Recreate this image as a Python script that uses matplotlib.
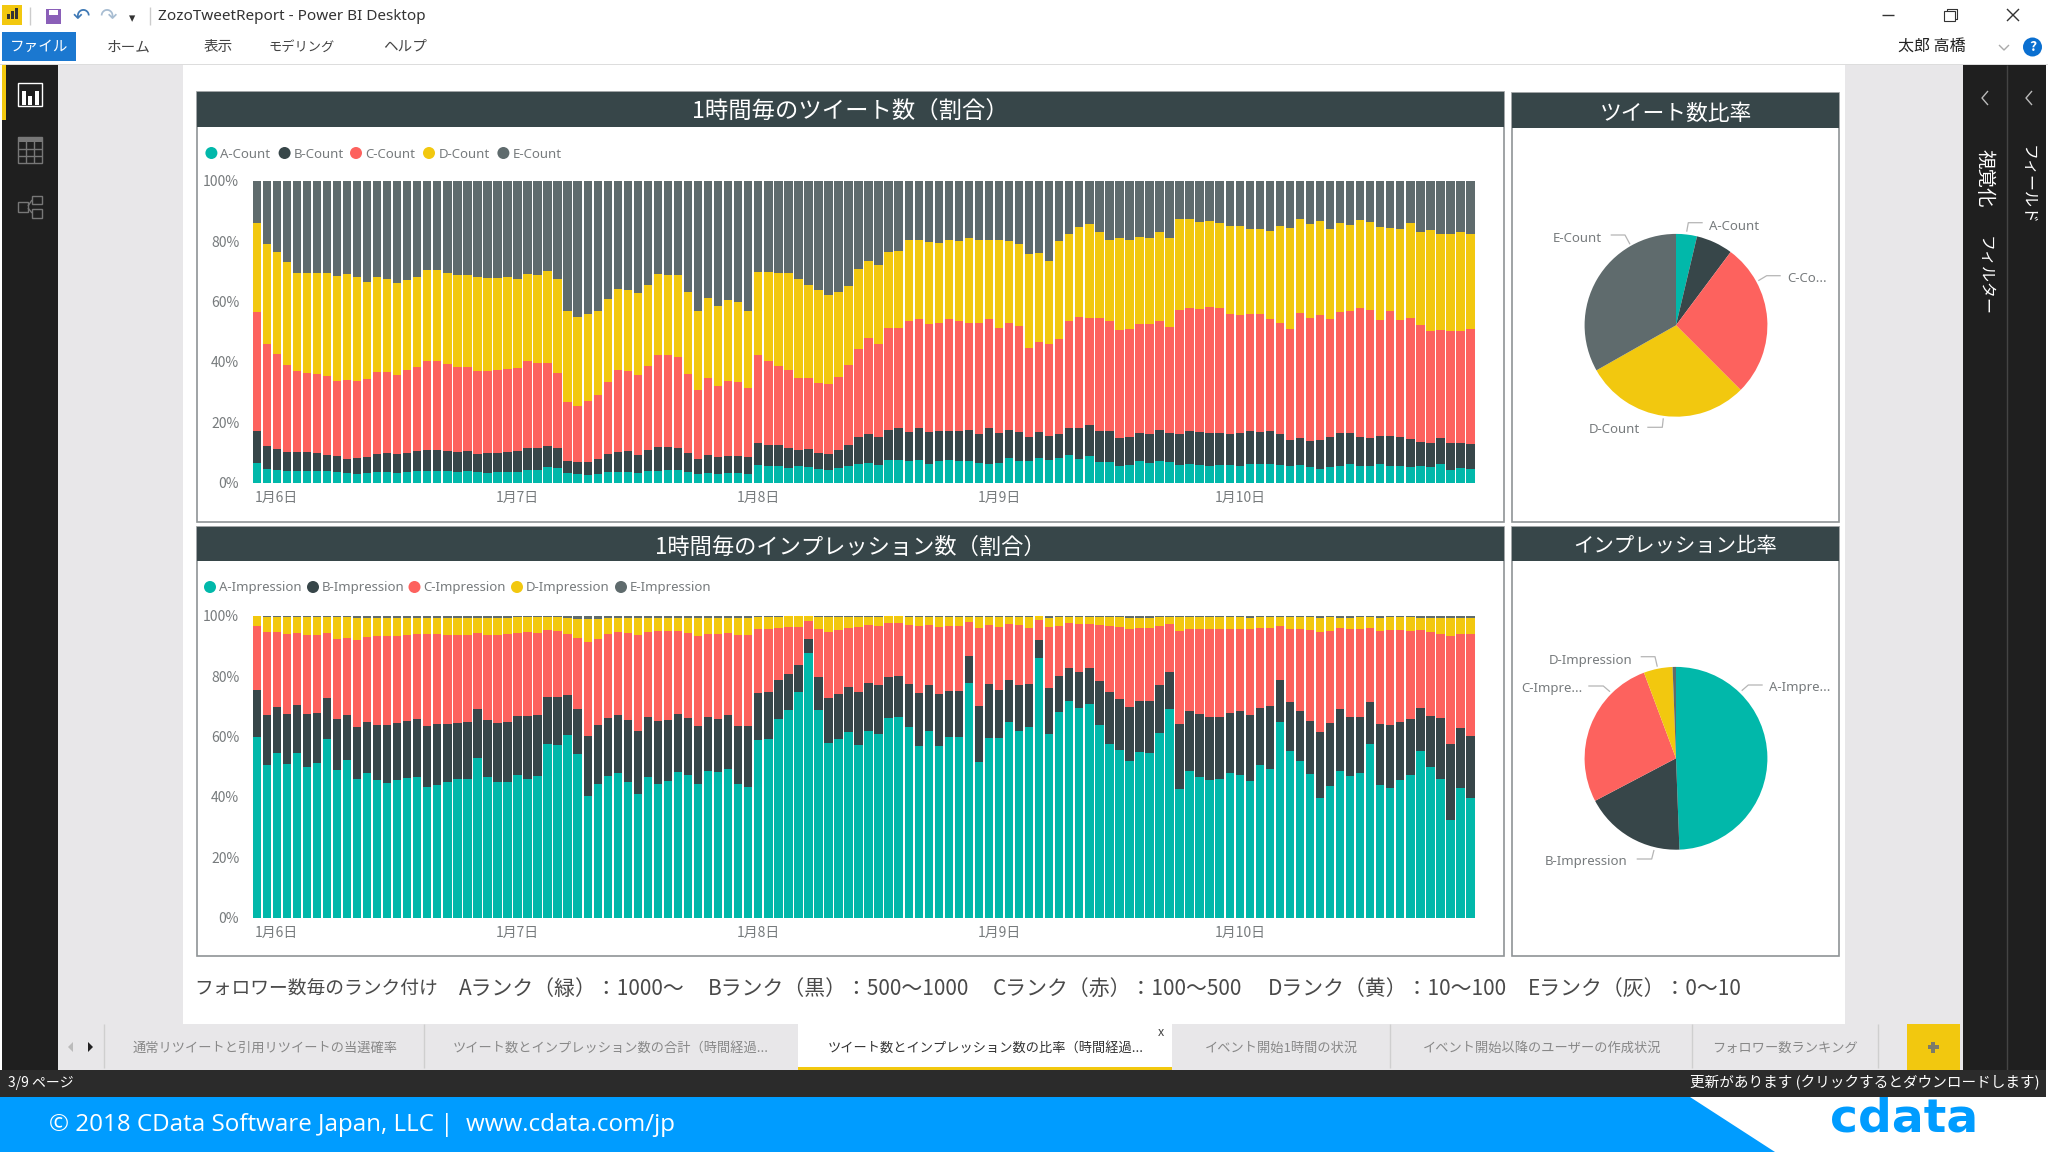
import numpy as np
import matplotlib
matplotlib.use("Agg")
import matplotlib.pyplot as plt
from matplotlib.patches import Rectangle, Circle, Polygon

plt.rcParams['font.family'] = ['Noto Sans CJK JP', 'DejaVu Sans']

# ---------- data ----------
hours = list(range(122))
tick_positions = [2, 26, 50, 74, 98]
tick_labels = ['1月6日', '1月7日', '1月8日', '1月9日', '1月10日']
y_ticks = [0, 20, 40, 60, 80, 100]

# cumulative tops of each stacked band (percent)
count_a = [6.5,4.5,4.2,4,3.8,4,4,3.8,3.5,3.3,3,3.2,3.4,3.4,3.3,3.7,3.8,3.9,3.9,3.9,
           3.7,3.8,3.6,3.3,3.5,3.5,3.7,4.3,4.2,5.2,5,3.2,2.9,2.5,3,3.4,3.7,3.6,3.1,3.8,
           4,4.1,4.1,3.6,2.9,3.3,3,3.2,3.1,2.9,5.7,5.4,5.6,4.9,5.5,5.3,4.4,4.2,4.9,5.5,
           6.3,6.6,6,7.6,7.6,7.1,7.6,6.3,7.1,7.6,7.2,7.3,6.6,6.2,6.6,8.1,7.3,7.3,8.1,7.5,
           8.1,9.1,7.9,8.8,7,6.7,5.5,5.7,7.1,6.6,7.2,6.8,5.8,6.3,6,5.6,5.7,5.7,5.4,6.2,
           6.3,6.1,5.8,5.6,5.8,5.1,4.4,5.3,5.6,6.3,5.6,5.5,6.1,5.6,5.6,5.2,5.6,5.2,6.1,4.2,5,4.7]
count_b = [17,12,11,10,10,10,9.8,9.3,8.7,8,8.1,8.4,9.5,9.7,9.5,9.9,10.4,10.8,10.8,10.6,
           10,10.4,9.6,9.7,9.9,10,10.4,11.5,11.6,12.2,11.6,7.3,6.8,6.9,7.8,9.5,10.2,10.5,9.3,10.8,
           11.8,11.9,11.5,9.8,8,9.2,8.4,8.7,8.9,8.4,13.3,12.6,12.6,11.6,10.9,11.2,9.8,9.6,10.9,12.6,
           15.1,16.2,15.1,17.5,18,16.9,18.2,16.7,17.2,17.2,17,17.5,16.1,18.2,16.3,17.3,16.9,15.1,16.9,15.5,
           16.2,18.2,18,19,17.2,17.2,14.8,15.1,16.4,16.2,17.5,16.4,16.2,17,16.8,16.4,16.6,16.2,16.4,17,
           16.7,17.1,16,14.3,14.8,13.7,14,15,16.6,16.3,15.2,14.7,15.3,15.3,15.1,14.6,13.6,13,14.8,13.2,13.2,12.9]
count_c = [56.5,46,42.5,39,37,36.3,36,35.3,33.7,34,33.6,34.5,36.6,36.8,35.8,37.2,38.2,40.2,40.3,39.2,
           38.3,38.3,37,37,37.2,37.8,38,40.2,39.6,39.6,36.3,26.6,25.4,27.2,29,33.5,37.2,37,35.7,38.6,
           42.3,42.3,41.6,36,30.6,34.6,32.1,33.8,33.5,31.4,42.2,40.3,38.6,37.2,34.8,34.7,33.1,32.7,35,38.9,
           44.4,47.8,46,51.1,51.2,53.5,54.2,52.4,52.8,54.2,53.5,53,53,54.2,51.3,52.9,51.8,44.7,46.5,45.8,
           47.7,53.5,55,54.5,54.5,53.5,50.4,50.8,52.4,52.5,53.5,51.4,57.1,57.8,57.4,58.3,57.9,56,55.6,56,
           55.7,54.2,52.9,51,56.1,54.5,55.6,54.3,56.5,57,57.8,57.2,53.8,56.8,53.9,54.7,52.2,50.1,50.4,50.3,50.1,50.8]
count_d = [86,79,76.5,73,69.5,69.5,69.5,69.5,68.5,69,68,66.5,68,67.5,66,67,68,70.3,70.3,69.5,
           68.7,68.8,68,67.7,67.8,68,67.5,69,68.7,70.2,67.4,56.8,55,55.7,56.8,60.7,64,63.7,62.8,65.3,
           69,68.8,68.7,63.2,56.9,61,58.6,60.5,60,56.9,69.9,69.7,69.5,69.6,67.6,65.3,63.8,62,63.3,65.2,
           70.8,73.3,72,76.5,76.8,80.4,80.4,79.8,79.4,80.4,80.1,81.1,80.2,80.2,80.2,79.9,78.9,75.7,75.9,73.3,
           80,82.2,84.8,85.7,82.9,80.4,81.1,80.2,81.5,80.9,82.9,81,87.3,87.2,86.2,86.5,86.1,85,84.9,84,
           83.9,83.3,85,84.3,87.4,85.5,86.8,84.1,86,85.3,87,86.3,84.8,84.2,84.1,86,83,83.7,82.5,82.3,82.9,82.5]

imp_a = [59.7,50.4,54.6,50.9,54.7,50,51.3,59.2,48.9,52.2,45.8,47.9,45.5,44.7,45.6,46.2,46.7,43.3,44,45,
         46,45.8,52.9,46.5,45,45,47.2,45.9,47,57.5,57.1,60.4,54.2,40.4,44.4,46.8,48,45,40.8,46.7,
         44.4,45.1,48.2,47.2,44.4,48.6,48.3,49.4,44.4,43.3,58.8,59.2,65.7,68.8,74.9,87.5,68.8,57.9,59.2,61.6,
         57.2,61.9,60.9,66,66.3,63,57,61.7,56.8,59.7,59.8,77.8,51.4,59.6,59.6,64.8,61.7,63.1,86,60.9,
         68,71.6,69.5,70.7,63.8,57.6,55.6,51.8,55,54.4,61.1,69.1,42.6,48.5,46.7,45.5,45.8,47.9,47.2,45.1,
         50.6,49.4,64.9,55.2,51.8,47.5,39.8,43.6,48.7,46.8,47.9,57.5,44,43,45.5,47.1,55.1,50,45.8,32.3,43,39.6]
imp_b = [75.3,67.2,69.9,67.3,70.3,67.3,67.7,72.7,65.7,67,63,64.8,63.9,63.9,64.5,65.1,65.8,63.5,64.1,64.1,
         64.6,64.9,69.1,65.3,64.5,64.8,66.7,66.7,67.1,73.2,73.1,73.7,69,60.2,63.8,66.2,67.1,65.6,61.7,66.4,
         65.2,65.6,67.3,66.1,63.6,66.4,65.8,67,63.6,63.6,74.5,74.6,78.7,80.6,83.7,92.3,79.8,72.6,74.1,76.4,
         74.8,77.8,76.9,79.8,80.1,77.3,74.4,77.2,74.1,75.2,75.2,86.8,70.2,77.3,75.5,78.6,76.9,77.5,92,75.9,
         80.1,82.6,81.5,82.6,78.3,74.8,72.4,69.9,71.7,71.7,76.9,81.2,64.3,68.4,67.4,66.3,66.6,67.8,68.4,67,
         69.6,70,78.6,71.4,68.4,65.2,61.5,64.6,69.1,66.3,66.3,71.5,64,63.7,64.9,65.7,69.4,66.8,66.2,57.4,62.7,60.3]
imp_c = [96.7,94.6,94.6,93.8,94.2,93.5,93.5,94.3,92.4,92.7,92,92.9,93.2,93.3,93.4,93.6,93.8,93.8,93.9,93.6,
         93.7,93.7,94.2,93.5,93.5,93.8,94.2,94.5,94.2,95.3,94.9,93.8,92.6,91.4,92.4,93.8,94.6,94.2,93.5,94.6,
         94.9,94.9,94.9,94.2,93.2,93.9,93.8,94.2,93.5,93.5,95.6,95.5,95.9,96.1,96.4,98.3,95.7,94.7,95.1,96,
         96.1,96.9,96.7,97.5,97.5,96.9,96.7,96.8,96.4,96.6,96.6,98,95.9,96.9,96.4,97.1,97,95.9,98.6,96.2,
         96.5,97.5,97.2,97.4,96.8,96.5,96.4,95.5,95.9,95.9,96.7,97.4,94.9,95.6,95.5,95.5,95.6,95.6,95.6,95.6,
         95.9,96,96.6,95.5,95.6,95.1,94.5,95,95.9,95.6,95.7,95.8,94.9,95.3,95.1,94.9,95.4,94.6,94,93.3,93.9,94]
imp_d = [99.8,99.6,99.6,99.6,99.6,99.6,99.6,99.6,99.6,99.6,99.3,99.3,99.4,99.4,99.4,99.4,99.4,99.4,99.4,99.4,
         99.4,99.4,99.4,99.4,99.4,99.4,99.6,99.6,99.6,99.6,99.6,99.3,99,98.9,99,99.3,99.4,99.4,99.4,99.4,
         99.4,99.4,99.4,99.4,99.3,99.3,99.3,99.4,99.3,99.2,99.7,99.7,99.7,99.8,99.8,99.8,99.6,99.6,99.6,99.7,
         99.7,99.7,99.7,99.8,99.8,99.7,99.7,99.7,99.7,99.7,99.7,99.7,99.6,99.6,99.6,99.6,99.6,99.6,99.9,99.4,
         99.6,99.7,99.7,99.7,99.7,99.6,99.6,99.3,99.3,99.3,99.6,99.7,99.6,99.6,99.6,99.6,99.6,99.6,99.6,99.4,
         99.6,99.6,99.6,99.6,99.6,99.6,99.4,99.6,99.4,99.4,99.6,99.6,99.4,99.6,99.6,99.6,99.4,99.3,99.3,99.2,99.3,99.4]

count_labels = ['A-Count', 'B-Count', 'C-Count', 'D-Count', 'E-Count']
imp_labels = ['A-Impression', 'B-Impression', 'C-Impression', 'D-Impression', 'E-Impression']
pie_count = [3.7, 6.5, 27.3, 29.3, 33.2]
pie_imp = [49.4, 17.9, 27.0, 5.1, 0.6]
colors = ['#01B8AA', '#374649', '#FD625E', '#F2C80F', '#5F6B6D']
GREY = '#777b7d'
W, H = 2048, 1152

fig = plt.figure(figsize=(W / 100, H / 100), dpi=100, facecolor='white')
bg = fig.add_axes([0, 0, 1, 1], zorder=0)
bg.set_xlim(0, W); bg.set_ylim(H, 0); bg.axis('off')


def rect(x0, y0, x1, y1, fc, ec='none', lw=0, z=1):
    bg.add_patch(Rectangle((x0, y0), x1 - x0, y1 - y0, facecolor=fc, edgecolor=ec, linewidth=lw, zorder=z))


def line(xs, ys, c=GREY, lw=0.8, z=3):
    bg.plot(xs, ys, color=c, lw=lw, zorder=z, solid_capstyle='butt')


def txt(x, y, s, size=10, c='#333333', ha='left', va='center', z=5, **kw):
    if va == 'center' and 'rotation' not in kw:
        y = y + (1 if 'family' in kw else 3)
    bg.text(x, y, s, fontsize=size, color=c, ha=ha, va=va, zorder=z, **kw)


def axes_px(x0, y0, x1, y1, z=2):
    return fig.add_axes([x0 / W, 1 - y1 / H, (x1 - x0) / W, (y1 - y0) / H], zorder=z)


# ---------- window chrome ----------
rect(0, 64, W, 65, '#dddddd')
rect(58, 65, 183, 1024, '#e8e7e9')
rect(1845, 65, 1963, 1024, '#e8e7e9')
rect(2, 65, 58, 1070, '#1f1f1f')
rect(2, 65, 6, 120, '#F2C80F', z=2)
rect(1963, 65, 2046, 1070, '#1f1f1f')
line([2007, 2007], [65, 1070], '#444444', 1)

# title bar
rect(2, 5, 22, 25, '#F2C80F')
for bx, bh in zip([7, 11, 15], [5, 8, 11]):
    rect(bx, 19 - bh, bx + 3, 19, '#333333', z=2)
line([30, 30], [7, 25], '#cccccc', 1)
rect(46, 9, 61, 24, '#8a5fb8')
rect(49, 10, 58, 15, 'white', z=2)
txt(81, 15, '↶', 15, '#3f79b5', ha='center', family='DejaVu Sans')
txt(108, 15, '↷', 15, '#a8bdd2', ha='center', family='DejaVu Sans')
txt(132, 18, '▾', 9, '#333333', ha='center', family='DejaVu Sans')
line([150, 150], [7, 25], '#cccccc', 1)
txt(158, 16, 'ZozoTweetReport - Power BI Desktop', 11, '#333333', family=['Noto Sans', 'DejaVu Sans'])
rect(2, 32, 76, 61, '#1b78d0')
txt(39, 44, 'ファイル', 10.5, 'white', ha='center')
for mx, ms, msz in zip([129, 218, 302, 405], ['ホーム', '表示', 'モデリング', 'ヘルプ'], [10.5, 10.5, 9.5, 10.5]):
    txt(mx, 44, ms, msz, '#444444', ha='center')
txt(1932, 43, '太郎 高橋', 11.5, '#222222', ha='center')
line([1999, 2004, 2009], [45, 50, 45], '#aaaaaa', 1)
bg.add_patch(Circle((2032.5, 47), 9.5, fc='#0a6fd0', ec='none', zorder=3))
txt(2032.5, 44, '?', 10, 'white', ha='center', weight='bold')
line([1882, 1894], [15, 15], '#333333', 1)
rect(1944, 11, 1955, 21, 'white', '#333333', 0.8, z=3)
line([1947, 1947, 1957, 1957, 1955], [11, 9, 9, 19, 19], '#333333', 0.8)
line([2007, 2019], [9, 21], '#333333', 1)
line([2007, 2019], [21, 9], '#333333', 1)

# left icons
rect(18, 83, 42, 106, 'none', 'white', 1, z=3)
for bx, bh in zip([22, 28, 35], [14, 9, 14]):
    rect(bx, 105 - bh, bx + 4, 105, 'white', z=3)
rect(18, 137, 42, 163, 'none', '#777777', 1, z=3)
rect(18, 137, 42, 142, '#777777', z=3)
for gx in [26, 34]:
    line([gx, gx], [137, 163], '#777777', 1)
for gy in [149, 156]:
    line([18, 42], [gy, gy], '#777777', 1)
for a, b, c_, d in [(18, 202, 28, 212), (32, 196, 42, 204), (32, 209, 42, 218)]:
    rect(a, b, c_, d, 'none', '#777777', 1, z=3)
line([28, 32], [206, 200], '#777777', 1)
line([28, 32], [208, 213], '#777777', 1)

# right panels
for cx in [1985, 2029]:
    line([cx + 3, cx - 3, cx + 3], [91, 98, 105], '#bbbbbb', 1)
txt(1984, 178, '視覚化', 14, 'white', ha='center', rotation=-90)
txt(1984, 276, 'フィルター', 11.5, 'white', ha='center', rotation=-90)
txt(2027, 185, 'フィールド', 11.5, 'white', ha='center', rotation=-90)


# ---------- tiles ----------
def tile(x0, y0, x1, y1, band_bottom, title, tsize=16):
    rect(x0, y0, x1, y1, 'white', '#8f9496', 1.2, z=1)
    rect(x0, y0, x1, band_bottom, '#374649', z=2)
    txt((x0 + x1) / 2, (y0 + band_bottom) / 2, title, tsize, 'white', ha='center', z=4)


tile(197, 92, 1504, 522, 127, '1時間毎のツイート数（割合）', 16.8)
tile(197, 527, 1504, 956, 561, '1時間毎のインプレッション数（割合）', 16)
tile(1512, 93, 1839, 522, 128, 'ツイート数比率', 15.7)
tile(1512, 527, 1839, 956, 561, 'インプレッション比率', 14.7)


# ---------- stacked bars ----------
def stacked(box, tops):
    ax = axes_px(*box)
    x = np.array(hours)
    bottom = np.zeros(len(hours))
    for top, col in zip(tops + [np.full(len(hours), 100.0)], colors):
        top = np.asarray(top, float)
        ax.bar(x, top - bottom, width=0.84, bottom=bottom, color=col, linewidth=0)
        bottom = top
    ax.set_xlim(-0.5, 121.5)
    ax.set_ylim(0, 100)
    ax.set_yticks(y_ticks, [f'{v}%' for v in y_ticks])
    ax.set_xticks(tick_positions, tick_labels)
    ax.tick_params(length=0, labelsize=10, labelcolor=GREY)
    ax.tick_params(axis='y', pad=9)
    ax.tick_params(axis='x', pad=6)
    for s in ax.spines.values():
        s.set_visible(False)
    ax.patch.set_alpha(0)
    return ax


stacked((251.7, 180.7, 1475.5, 482.7), [count_a, count_b, count_c, count_d])
stacked((251.7, 615.7, 1475.5, 917.7), [imp_a, imp_b, imp_c, imp_d])


def legend(y, circles, texts, labels):
    for cx, tx, lab, col in zip(circles, texts, labels, colors):
        bg.add_patch(Circle((cx, y), 6, fc=col, ec='none', zorder=4))
        txt(tx, y, lab, 9.5, GREY, family=['Noto Sans', 'DejaVu Sans'])


legend(153, [211.4, 284.6, 356, 429, 503.4], [220, 293.6, 365.4, 438.7, 512.3], count_labels)
legend(587, [210, 313, 414.5, 517, 621], [219, 322, 423.5, 526, 630], imp_labels)


# ---------- pies ----------
def pie(cx, cy, r, vals):
    ax = axes_px(cx - r, cy - r, cx + r, cy + r)
    ax.pie(vals, colors=colors, startangle=90, counterclock=False, radius=1,
           wedgeprops=dict(linewidth=0))
    ax.set_xlim(-1, 1); ax.set_ylim(-1, 1)


pie(1676, 325.3, 91.4, pie_count)
pie(1676, 758.3, 91.4, pie_imp)


def callout(tx, ty, s, xs, ys):
    txt(tx, ty, s, 9.5, GREY, family=['Noto Sans', 'DejaVu Sans'])
    line(xs, ys, '#b5b5b5', 0.9)


callout(1709.3, 225, 'A-Count', [1686.7, 1688.3, 1702.7], [231.7, 222.7, 222.7])
callout(1552.7, 237.7, 'E-Count', [1610.7, 1625, 1630], [235, 235, 244.3])
callout(1787.3, 277.3, 'C-Co...', [1780.7, 1766.7, 1758.3], [275.7, 275.7, 280.7])
callout(1589, 428.3, 'D-Count', [1647.3, 1662.3, 1663.3], [427.3, 427.3, 418.3])
callout(1548.3, 659.3, 'D-Impression', [1640.7, 1655, 1657.3], [656.7, 656.7, 666.7])
callout(1521.7, 687.3, 'C-Impre...', [1588.3, 1603.3, 1610], [686, 686, 691.7])
callout(1769.3, 686.7, 'A-Impre...', [1762.7, 1748.3, 1741.7], [685, 685, 690.7])
callout(1545, 860, 'B-Impression', [1636.7, 1651.7, 1654], [859, 859, 850])

# ---------- rank note ----------
for nx, ns, nsz in zip([194, 459, 708, 993, 1268, 1528],
                       ['フォロワー数毎のランク付け', 'Aランク（緑）：1000～', 'Bランク（黒）：500～1000',
                        'Cランク（赤）：100～500', 'Dランク（黄）：10～100', 'Eランク（灰）：0～10'],
                       [13.5, 15, 15, 15, 15, 15]):
    txt(nx, 986, ns, nsz, '#4a4a4a')

# ---------- page tabs ----------
rect(58, 1024, 1963, 1070, '#e8e7e9')
rect(798, 1024, 1172, 1070, 'white', z=2)
rect(798, 1067, 1172, 1070, '#F2C80F', z=3)
rect(1907, 1024, 1960, 1070, '#F2C80F', z=2)
for dx in [104, 424, 1390, 1691.5, 1878]:
    line([dx, dx], [1024, 1068], '#cfcfcf', 1)
for tx, ts, tc in zip([265.5, 611, 986, 1281, 1542, 1785],
                      ['通常リツイートと引用リツイートの当選確率', 'ツイート数とインプレッション数の合計（時間経過...',
                       'ツイート数とインプレッション数の比率（時間経過...', 'イベント開始1時間の状況',
                       'イベント開始以降のユーザーの作成状況', 'フォロワー数ランキング'],
                      ['#888888', '#888888', '#333333', '#888888', '#888888', '#888888']):
    txt(tx, 1045, ts, 9.5, tc, ha='center', z=4)
txt(1161, 1030, 'x', 9, '#444444', ha='center', z=4)
bg.add_patch(Polygon([(73, 1042), (73, 1052), (68, 1047)], fc='#bbbbbb', ec='none', zorder=4))
bg.add_patch(Polygon([(88, 1042), (88, 1052), (93, 1047)], fc='#222222', ec='none', zorder=4))
rect(1927.5, 1045, 1938.5, 1049, '#7b7b6a', z=4)
rect(1931, 1041.5, 1935, 1052.5, '#7b7b6a', z=4)

# ---------- status + footer ----------
rect(1690, 1097, W, H, 'white', z=6)
bg.add_patch(Polygon([(0, 1097), (1690, 1097), (1775, 1152), (0, 1152)], fc='#009CFF', ec='none', zorder=7))
txt(1830, 1132, 'cdata', 34, '#009CFF', va='baseline', weight='bold', family=['DejaVu Sans'], z=8)
rect(0, 1070, W - 2, 1097, '#2b2b2b', z=9)
txt(8, 1080, '3/9 ページ', 10, 'white', z=10)
txt(2040, 1080, '更新があります (クリックするとダウンロードします)', 10.5, 'white', ha='right', z=10)
txt(49, 1124, '© 2018 CData Software Japan, LLC |  www.cdata.com/jp', 17.4, 'white',
    family=['Open Sans', 'DejaVu Sans'], z=10)

fig.savefig('out.png', dpi=100)
